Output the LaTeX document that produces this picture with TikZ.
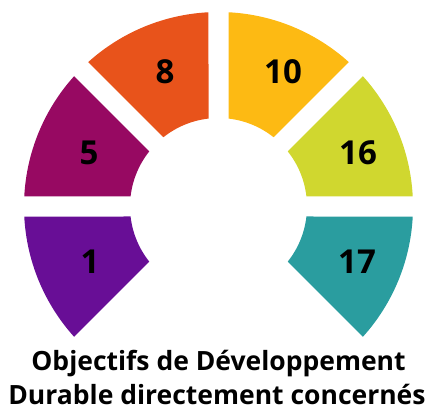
\documentclass[tikz,border=0pt]{standalone}
\usepackage{fontspec}
\setmainfont{Open Sans}
\definecolor{sdgone}{HTML}{680E96}
\definecolor{sdgfive}{HTML}{970962}
\definecolor{sdgeight}{HTML}{E8531B}
\definecolor{sdgten}{HTML}{FDBA13}
\definecolor{sdgsixteen}{HTML}{D0D72F}
\definecolor{sdgseventeen}{HTML}{2A9D9F}
\tikzset{
  numlabel/.style={font=\fontsize{33}{33}\selectfont\bfseries, text=black, inner sep=0pt, anchor=center},
  caplabel/.style={font=\fontsize{26.5}{33}\selectfont\bfseries, text=black, inner sep=0pt, anchor=base}
}
\newcommand\ringsector[3]{%
  \fill[#3] (#1+2.95:194.5) arc[start angle=#1+2.95, end angle=#2-2.95, radius=194.5]
    -- (#2-6.49:88.5) arc[start angle=#2-6.49, end angle=#1+6.49, radius=88.5] -- cycle;}
\begin{document}
\begin{tikzpicture}[x=1pt,y=1pt]
\useasboundingbox (0,0) rectangle (430,412);
\begin{scope}[shift={(218.5,205.5)}]
  \ringsector{180}{225}{sdgone}
  \ringsector{135}{180}{sdgfive}
  \ringsector{90}{135}{sdgeight}
  \ringsector{45}{90}{sdgten}
  \ringsector{0}{45}{sdgsixteen}
  \ringsector{-45}{0}{sdgseventeen}
\end{scope}
\node[numlabel] (n8) at (165,340) {8};
\node[numlabel] (n10) at (283,340) {10};
\node[numlabel] (n5) at (89,259) {5};
\node[numlabel] (n16) at (358,259) {16};
\node[numlabel] (n1) at (90,150) {1};
\node[numlabel] (n17) at (357,150) {17};
\node[caplabel] (cap1) at (218.5,42) {Objectifs de Développement};
\node[caplabel] (cap2) at (217,7.5) {Durable directement concernés};
\end{tikzpicture}
\end{document}
